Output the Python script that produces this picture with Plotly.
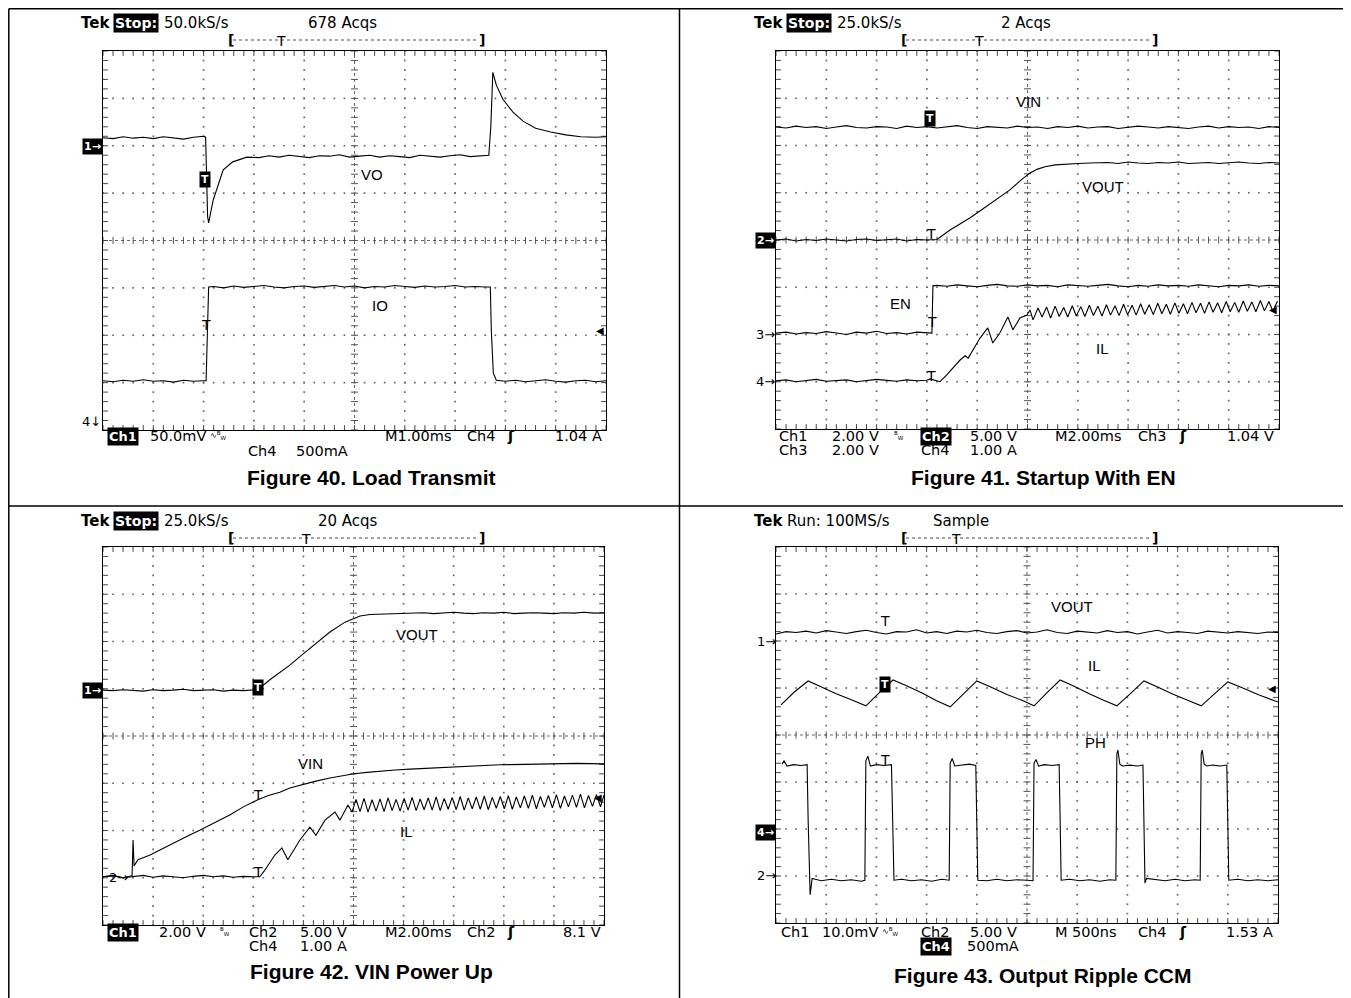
import numpy as np
import plotly.graph_objects as go

# page pixel frame of the reference (the browser adds an 8px body margin)
OX, OY = 8, 8
FW, FH = 1343, 990
SCOPE = "DejaVu Sans"
SANS = "Liberation Sans"

# ---------------- data (time in divisions 0..10, amplitude in divisions -4..4) ----------------
TIME_51 = [0.0, 0.2, 0.4, 0.6, 0.8, 1.0, 1.2, 1.4, 1.6, 1.8, 2.0, 2.2, 2.4, 2.6, 2.8, 3.0, 3.2, 3.4,
           3.6, 3.8, 4.0, 4.2, 4.4, 4.6, 4.8, 5.0, 5.2, 5.4, 5.6, 5.8, 6.0, 6.2, 6.4, 6.6, 6.8, 7.0,
           7.2, 7.4, 7.6, 7.8, 8.0, 8.2, 8.4, 8.6, 8.8, 9.0, 9.2, 9.4, 9.6, 9.8, 10.0]

# Figure 40 - Load Transmit
F40_VO_X = [0, 0.2, 0.4, 0.6, 0.8, 1.0, 1.2, 1.4, 1.6, 1.8, 2.0, 2.04, 2.06, 2.08, 2.1, 2.19, 2.39,
            2.58, 2.86, 3.1, 3.3, 3.5, 3.7, 3.9, 4.1, 4.3, 4.5, 4.7, 4.9, 5.1, 5.3, 5.5, 5.7, 5.9,
            6.1, 6.3, 6.5, 6.7, 6.9, 7.1, 7.3, 7.5, 7.67, 7.71, 7.75, 7.82, 7.95, 8.15, 8.35, 8.6,
            8.9, 9.2, 9.5, 9.8, 10]
F40_VO_Y = [2.17, 2.15, 2.19, 2.16, 2.18, 2.15, 2.19, 2.17, 2.14, 2.18, 2.2, 2.18, 1.2, 0.5, 0.37,
            0.85, 1.49, 1.66, 1.76, 1.75, 1.79, 1.76, 1.80, 1.77, 1.75, 1.79, 1.78, 1.81, 1.76, 1.78,
            1.80, 1.76, 1.79, 1.77, 1.75, 1.80, 1.78, 1.76, 1.79, 1.81, 1.77, 1.78, 1.80, 2.4, 3.55,
            3.28, 2.98, 2.71, 2.52, 2.37, 2.29, 2.23, 2.19, 2.18, 2.19]
F40_IO_X = [0, 0.2, 0.4, 0.6, 0.8, 1.0, 1.2, 1.4, 1.6, 1.8, 2.0, 2.05, 2.1, 2.2, 2.4, 2.6, 2.8, 3.0,
            3.2, 3.4, 3.6, 3.8, 4.0, 4.2, 4.4, 4.6, 4.8, 5.0, 5.2, 5.4, 5.6, 5.8, 6.0, 6.2, 6.4, 6.6,
            6.8, 7.0, 7.2, 7.4, 7.6, 7.7, 7.72, 7.76, 7.82, 8.0, 8.2, 8.4, 8.6, 8.8, 9.0, 9.2, 9.4,
            9.6, 9.8, 10]
F40_IO_Y = [-2.96, -2.98, -2.95, -2.97, -2.94, -2.97, -2.96, -2.99, -2.95, -2.97, -2.96, -2.96, -0.98,
            -0.97, -1.0, -0.96, -0.99, -0.97, -0.95, -0.98, -1.0, -0.97, -0.96, -0.99, -0.97, -0.95,
            -0.98, -0.96, -1.0, -0.97, -0.98, -0.95, -0.97, -0.99, -0.96, -0.98, -0.97, -0.95, -0.98,
            -0.97, -0.98, -0.98, -1.9, -2.8, -2.95, -2.97, -2.95, -2.98, -2.96, -2.94, -2.97, -2.99,
            -2.96, -2.95, -2.98, -2.96]

# Figure 41 - Startup With EN
F41_VIN_Y = [2.39, 2.37, 2.41, 2.38, 2.40, 2.36, 2.39, 2.42, 2.38, 2.37,
             2.40, 2.39, 2.36, 2.41, 2.38, 2.40, 2.37, 2.39, 2.42, 2.38,
             2.36, 2.40, 2.39, 2.37, 2.41, 2.38, 2.39, 2.36, 2.40, 2.38,
             2.41, 2.37, 2.39, 2.40, 2.36, 2.38, 2.41, 2.39, 2.37, 2.40,
             2.38, 2.36, 2.39, 2.41, 2.37, 2.40, 2.38, 2.39, 2.36, 2.40, 2.38]
F41_VOUT_X = [0.0, 0.2, 0.4, 0.6, 0.8, 1.0, 1.2, 1.4, 1.6, 1.8, 2.0, 2.2, 2.4, 2.6, 2.8, 3.0, 3.2,
              3.46, 3.66, 3.86, 4.06, 4.25, 4.45, 4.65, 4.85, 5.05, 5.2, 5.35, 5.55, 5.75, 6.0, 6.24,
              6.4, 6.6, 6.8, 7.0, 7.2, 7.4, 7.6, 7.8, 8.0, 8.2, 8.4, 8.6, 8.8, 9.0, 9.2, 9.4, 9.6,
              9.8, 10.0]
F41_VOUT_Y = [0.0, 0.02, -0.02, 0.01, -0.01, 0.02, 0.0, -0.02, 0.01, 0.02, -0.01, 0.0, 0.02, -0.02,
              0.01, 0.0, 0.01,
              0.21, 0.34, 0.47, 0.62, 0.76, 0.91, 1.06, 1.25, 1.42, 1.50, 1.55, 1.59, 1.61, 1.62, 1.63,
              1.63, 1.64, 1.62, 1.65, 1.63, 1.62, 1.64, 1.63, 1.65, 1.62, 1.63, 1.64, 1.62, 1.63, 1.65,
              1.63, 1.62, 1.64, 1.63]
F41_EN_X = [0.0, 0.2, 0.4, 0.6, 0.8, 1.0, 1.2, 1.4, 1.6, 1.8, 2.0, 2.2, 2.4, 2.6, 2.8, 3.0, 3.1, 3.12,
            3.2, 3.4, 3.6, 3.8, 4.0, 4.2, 4.4, 4.6, 4.8, 5.0, 5.2, 5.4, 5.6, 5.8, 6.0, 6.2, 6.4, 6.6,
            6.8, 7.0, 7.2, 7.4, 7.6, 7.8, 8.0, 8.2, 8.4, 8.6, 8.8, 9.0, 9.2, 9.4, 9.6, 9.8, 10.0]
F41_EN_Y = [-1.97, -1.95, -1.99, -1.96, -1.98, -1.94, -1.97, -2.0, -1.95, -1.97, -1.93, -1.98, -1.96,
            -1.99, -1.95, -1.97, -1.97, -0.97,
            -0.96, -0.98, -0.95, -0.97, -0.99, -0.96, -0.94, -0.97, -0.98, -0.95, -0.97, -0.96, -0.99,
            -0.95, -0.97, -0.98, -0.96, -0.94, -0.97, -0.99, -0.96, -0.98, -0.95, -0.97, -0.96, -0.98,
            -0.95, -0.97, -0.99, -0.96, -0.97, -0.95, -0.98, -0.96, -0.97]
F41_IL_X = [0.0, 0.2, 0.4, 0.6, 0.8, 1.0, 1.2, 1.4, 1.6, 1.8, 2.0, 2.2, 2.4, 2.6, 2.8, 3.0,
            3.06, 3.26, 3.39, 3.66, 3.76, 3.82, 3.92, 4.06, 4.21, 4.31, 4.45, 4.61, 4.71, 4.85, 4.99,
            5.05, 5.11, 5.21, 5.29,
            5.38, 5.46, 5.55, 5.63, 5.72, 5.80, 5.89, 5.97, 6.06, 6.14,
            6.23, 6.31, 6.40, 6.48, 6.57, 6.65, 6.74, 6.82, 6.91, 6.99,
            7.08, 7.16, 7.25, 7.33, 7.42, 7.50, 7.59, 7.67, 7.76, 7.84,
            7.93, 8.01, 8.10, 8.18, 8.27, 8.35, 8.44, 8.52, 8.61, 8.69,
            8.78, 8.86, 8.95, 9.03, 9.12, 9.20, 9.29, 9.37, 9.46, 9.54,
            9.63, 9.71, 9.80, 9.88, 9.97]
F41_IL_Y = [-2.98, -2.96, -3.0, -2.97, -2.95, -2.99, -2.97, -2.96, -3.0, -2.98, -2.95, -2.97, -2.99,
            -2.96, -2.98, -2.97,
            -2.94, -3.0, -2.86, -2.54, -2.45, -2.50, -2.33, -2.07, -1.86, -2.18, -1.97, -1.63, -1.90,
            -1.65, -1.59, -1.48, -1.69, -1.44, -1.63,
            -1.42, -1.65, -1.40, -1.62, -1.43, -1.63, -1.39, -1.61, -1.41, -1.62,
            -1.38, -1.60, -1.40, -1.61, -1.37, -1.59, -1.39, -1.60, -1.36, -1.58,
            -1.38, -1.59, -1.35, -1.57, -1.37, -1.58, -1.34, -1.56, -1.36, -1.57,
            -1.33, -1.55, -1.35, -1.56, -1.32, -1.54, -1.34, -1.55, -1.31, -1.53,
            -1.33, -1.54, -1.30, -1.52, -1.32, -1.53, -1.29, -1.51, -1.31, -1.52,
            -1.28, -1.50, -1.30, -1.51, -1.29]

# Figure 42 - VIN Power Up
F42_VOUT_X = [0.0, 0.2, 0.4, 0.6, 0.8, 1.0, 1.2, 1.4, 1.6, 1.8, 2.0, 2.2, 2.4, 2.6, 2.8, 3.0,
              3.09, 3.33, 3.53, 3.73, 3.93, 4.13, 4.33, 4.53, 4.83, 5.13, 5.33, 5.53, 5.73, 5.93,
              6.2, 6.4, 6.6, 6.8, 7.0, 7.2, 7.4, 7.6, 7.8, 8.0, 8.2, 8.4, 8.6, 8.8, 9.0, 9.2, 9.4,
              9.6, 9.8, 10.0]
F42_VOUT_Y = [0.97, 0.96, 0.98, 0.97, 0.95, 0.98, 0.96, 0.97, 0.99, 0.96, 0.97, 0.98, 0.95, 0.97,
              0.96, 0.98,
              0.98, 1.19, 1.34, 1.50, 1.68, 1.86, 2.03, 2.20, 2.41, 2.54, 2.57, 2.58, 2.59, 2.60,
              2.60, 2.61, 2.59, 2.60, 2.62, 2.60, 2.59, 2.61, 2.60, 2.62, 2.59, 2.60, 2.61, 2.60,
              2.59, 2.61, 2.60, 2.62, 2.60, 2.61]
F42_VIN_X = [0, 0.2, 0.4, 0.58, 0.6, 0.62, 0.66, 0.7, 0.94, 1.2, 1.44, 1.7, 1.94, 2.24, 2.53, 2.8,
             3.09, 3.3, 3.53, 3.73, 3.93, 4.23, 4.53, 4.77, 5.01, 5.27, 5.53, 5.83, 6.13, 6.53, 6.93,
             7.43, 7.92, 8.42, 8.92, 9.46, 10]
F42_VIN_Y = [-2.98, -2.95, -3.0, -2.96, -2.2, -2.75, -2.68, -2.62, -2.52, -2.38, -2.24, -2.11, -1.99,
             -1.83, -1.67, -1.50, -1.35, -1.26, -1.19, -1.10, -1.04, -0.96, -0.89, -0.84, -0.80,
             -0.77, -0.74, -0.72, -0.70, -0.68, -0.66, -0.63, -0.61, -0.60, -0.59, -0.58, -0.59]
F42_IL_X = [0.0, 0.2, 0.4, 0.6, 0.8, 1.0, 1.2, 1.4, 1.6, 1.8, 2.0, 2.2, 2.4, 2.6, 2.8, 3.0,
            3.13, 3.23, 3.43, 3.57, 3.69, 3.93, 4.13, 4.25, 4.43, 4.63, 4.73, 4.89, 4.97,
            5.05, 5.13, 5.21, 5.29, 5.37, 5.45, 5.53, 5.61, 5.69, 5.77,
            5.85, 5.93, 6.01, 6.09, 6.17, 6.25, 6.33, 6.41, 6.49, 6.57,
            6.65, 6.73, 6.81, 6.89, 6.97, 7.05, 7.13, 7.21, 7.29, 7.37,
            7.45, 7.53, 7.61, 7.69, 7.77, 7.85, 7.93, 8.01, 8.09, 8.17,
            8.25, 8.33, 8.41, 8.49, 8.57, 8.65, 8.73, 8.81, 8.89, 8.97,
            9.05, 9.13, 9.21, 9.29, 9.37, 9.45, 9.53, 9.61, 9.69, 9.77,
            9.85, 9.93, 10.0]
F42_IL_Y = [-2.98, -2.96, -3.0, -2.97, -2.95, -2.99, -2.96, -2.98, -3.0, -2.97, -2.95, -2.98, -2.96,
            -2.99, -2.97, -2.98,
            -2.98, -2.84, -2.52, -2.37, -2.62, -2.20, -1.93, -2.10, -1.78, -1.61, -1.78, -1.46, -1.61,
            -1.34, -1.60, -1.32, -1.61, -1.35, -1.59, -1.33, -1.60, -1.31, -1.58,
            -1.34, -1.59, -1.32, -1.57, -1.30, -1.58, -1.33, -1.56, -1.31, -1.57,
            -1.29, -1.58, -1.32, -1.55, -1.30, -1.56, -1.28, -1.57, -1.31, -1.54,
            -1.29, -1.55, -1.27, -1.56, -1.30, -1.53, -1.28, -1.54, -1.26, -1.55,
            -1.29, -1.52, -1.27, -1.53, -1.25, -1.54, -1.28, -1.51, -1.26, -1.52,
            -1.24, -1.53, -1.27, -1.50, -1.25, -1.51, -1.23, -1.52, -1.26, -1.49,
            -1.24, -1.50, -1.25]

# Figure 43 - Output Ripple CCM
F43_VOUT_Y = [2.15, 2.20, 2.18, 2.21, 2.17, 2.22, 2.19, 2.16, 2.20, 2.23,
              2.18, 2.15, 2.20, 2.19, 2.24, 2.17, 2.20, 2.16, 2.21, 2.19,
              2.23, 2.18, 2.16, 2.20, 2.22, 2.17, 2.19, 2.24, 2.18, 2.16,
              2.21, 2.19, 2.17, 2.22, 2.18, 2.20, 2.15, 2.19, 2.23, 2.17,
              2.20, 2.18, 2.16, 2.21, 2.19, 2.17, 2.20, 2.18, 2.16, 2.19, 2.18]
F43_IL_X = [0.1, 0.37, 0.64, 0.9, 1.2, 1.5, 1.79, 2.06, 2.33, 2.6, 2.9, 3.2, 3.47, 3.74, 4.0, 4.3,
            4.6, 4.9, 5.14, 5.4, 5.66, 5.95, 6.25, 6.55, 6.79, 7.06, 7.33, 7.6, 7.9, 8.2, 8.47, 8.74,
            9.0, 9.3, 9.6, 10.0]
F43_IL_Y = [0.64, 0.92, 1.15, 1.02, 0.88, 0.75, 0.62, 0.90, 1.17, 1.05, 0.90, 0.73, 0.60, 0.88, 1.15,
            1.01, 0.86, 0.74, 0.62, 0.90, 1.17, 1.03, 0.87, 0.73, 0.62, 0.88, 1.15, 1.02, 0.87, 0.74,
            0.62, 0.88, 1.13, 1.00, 0.86, 0.70]
F43_PH_X = [0.12, 0.16, 0.22, 0.35, 0.5, 0.62, 0.64, 0.66, 0.68, 0.72, 0.9, 1.1, 1.3, 1.5, 1.7, 1.77,
            1.79, 1.83, 1.88, 2.0, 2.15, 2.3, 2.33, 2.35, 2.5, 2.7, 2.9, 3.1, 3.3, 3.45,
            3.47, 3.51, 3.56, 3.7, 3.85, 3.98, 4.0, 4.02, 4.2, 4.4, 4.6, 4.8, 5.0, 5.12,
            5.14, 5.18, 5.23, 5.35, 5.5, 5.64, 5.66, 5.68, 5.85, 6.05, 6.25, 6.45, 6.65, 6.77,
            6.79, 6.81, 6.85, 6.9, 7.05, 7.2, 7.31, 7.33, 7.35, 7.38, 7.55, 7.75, 7.95, 8.15, 8.35, 8.45,
            8.47, 8.49, 8.53, 8.58, 8.7, 8.85, 8.98, 9.0, 9.02, 9.2, 9.4, 9.6, 9.8, 10.0]
F43_PH_Y = [-0.62, -0.55, -0.66, -0.63, -0.65, -0.63, -1.8, -3.0, -3.4, -3.05, -3.1, -3.07, -3.1, -3.08, -3.11, -3.09,
            -0.55, -0.45, -0.66, -0.63, -0.65, -0.63, -1.8, -3.09, -3.07, -3.1, -3.08, -3.11, -3.07, -3.09,
            -0.6, -0.5, -0.66, -0.64, -0.62, -0.65, -1.8, -3.09, -3.1, -3.07, -3.1, -3.08, -3.09, -3.1,
            -0.6, -0.52, -0.66, -0.63, -0.65, -0.63, -1.8, -3.09, -3.07, -3.1, -3.08, -3.11, -3.08, -3.09,
            -0.4, -0.32, -0.62, -0.66, -0.64, -0.66, -0.64, -1.8, -3.15, -3.05, -3.08, -3.1, -3.07, -3.1, -3.08, -3.09,
            -0.4, -0.32, -0.62, -0.66, -0.64, -0.66, -0.64, -1.8, -3.09, -3.07, -3.1, -3.08, -3.1, -3.08]

CAPTIONS = ["Figure 40. Load Transmit", "Figure 41. Startup With EN",
            "Figure 42. VIN Power Up", "Figure 43. Output Ripple CCM"]


def PX(x):
    return (x - OX) / FW


def PY(y):
    return 1 - (y - OY) / FH


# ---------------- layout ----------------
BOXES = [(103, 606, 51, 430), (776, 1279, 51, 429), (103, 604, 547, 925), (776, 1278, 547, 923)]
SUFFIX = ["", "2", "3", "4"]

fig = go.Figure()
lay = dict(width=FW, height=FH, margin=dict(l=0, r=0, t=0, b=0), paper_bgcolor="white",
           plot_bgcolor="white", showlegend=False)
for (x0, x1, y0, y1), n in zip(BOXES, SUFFIX):
    common = dict(showgrid=False, zeroline=False, showticklabels=False, ticks="", showline=True,
                  mirror=True, linecolor="black", linewidth=1.2, fixedrange=True)
    lay["xaxis" + n] = dict(domain=[PX(x0), PX(x1)], range=[0, 10], anchor="y" + n, **common)
    lay["yaxis" + n] = dict(domain=[PY(y1), PY(y0)], range=[-4, 4], anchor="x" + n, **common)
fig.update_layout(**lay)

DOT_V = list(np.round(np.arange(-4, 4.001, 0.2), 3))
DOT_H = list(np.round(np.arange(0, 10.001, 0.2), 3))


def add_grid(n):
    xr, yr = "x" + n, "y" + n
    gx, gy = [], []
    for xv in (1, 2, 3, 4, 6, 7, 8, 9):
        gx += [xv] * len(DOT_V)
        gy += DOT_V
    for yv in (-3, -2, -1, 1, 2, 3):
        gx += DOT_H
        gy += [yv] * len(DOT_H)
    fig.add_trace(go.Scatter(x=gx, y=gy, mode="markers", hoverinfo="skip",
                             marker=dict(symbol="square", size=1.7, color="#666"), xaxis=xr, yaxis=yr))
    for xs, ys in (([0, 10], [0, 0]), ([5, 5], [-4, 4])):
        fig.add_trace(go.Scatter(x=xs, y=ys, mode="lines", hoverinfo="skip",
                                 line=dict(color="#666", width=1, dash="dot"), xaxis=xr, yaxis=yr))
    fig.add_trace(go.Scatter(x=DOT_H, y=[0] * len(DOT_H), mode="markers", hoverinfo="skip",
                             marker=dict(symbol="line-ns", size=5, line=dict(width=1, color="#555")),
                             xaxis=xr, yaxis=yr))
    fig.add_trace(go.Scatter(x=[5] * len(DOT_V), y=DOT_V, mode="markers", hoverinfo="skip",
                             marker=dict(symbol="line-ew", size=5, line=dict(width=1, color="#555")),
                             xaxis=xr, yaxis=yr))
    fig.add_trace(go.Scatter(x=DOT_H * 2, y=[4] * len(DOT_H) + [-4] * len(DOT_H), mode="markers",
                             hoverinfo="skip",
                             marker=dict(symbol="line-ns", size=7, line=dict(width=1, color="#444")),
                             xaxis=xr, yaxis=yr))
    fig.add_trace(go.Scatter(x=[0] * len(DOT_V) + [10] * len(DOT_V), y=DOT_V * 2, mode="markers",
                             hoverinfo="skip",
                             marker=dict(symbol="line-ew", size=7, line=dict(width=1, color="#444")),
                             xaxis=xr, yaxis=yr))


def wave(n, xs, ys):
    fig.add_trace(go.Scatter(x=xs, y=ys, mode="lines", hoverinfo="skip",
                             line=dict(color="black", width=1.1), xaxis="x" + n, yaxis="y" + n))


for n in SUFFIX:
    add_grid(n)

wave("", F40_VO_X, F40_VO_Y)
wave("", F40_IO_X, F40_IO_Y)
wave("2", TIME_51, F41_VIN_Y)
wave("2", F41_VOUT_X, F41_VOUT_Y)
wave("2", F41_EN_X, F41_EN_Y)
wave("2", F41_IL_X, F41_IL_Y)
wave("3", F42_VOUT_X, F42_VOUT_Y)
wave("3", F42_VIN_X, F42_VIN_Y)
wave("3", F42_IL_X, F42_IL_Y)
wave("4", TIME_51, F43_VOUT_Y)
wave("4", F43_IL_X, F43_IL_Y)
wave("4", F43_PH_X, F43_PH_Y)


def ann(x, y, text, size=15, family=SCOPE, color="black", bg=None, xanchor="left", pad=0):
    fig.add_annotation(x=PX(x), y=PY(y), xref="paper", yref="paper", text=text, showarrow=False,
                       xanchor=xanchor, yanchor="middle", font=dict(family=family, size=size, color=color),
                       bgcolor=bg, borderpad=pad)


def boxed(x, y, text, size=13):
    ann(x, y, "<b>" + text + "</b>", size=size, color="white", bg="black", pad=1)


# headers
for dx, dy, rate, acq, acq_x, tx, stop in ((0, 0, "50.0kS/s", "678 Acqs", 307, 281, True),
                                           (673, 0, "25.0kS/s", "2 Acqs", 1000 - 673, 979 - 673, True),
                                           (0, 498, "25.0kS/s", "20 Acqs", 317, 306, True),
                                           (673, 498, "100MS/s", "Sample", 932 - 673, 956 - 673, False)):
    ann(80 + dx, 23 + dy, "<b>Tek</b>", size=15)
    if stop:
        boxed(113 + dx, 23 + dy, "Stop:", size=14)
        ann(163 + dx, 23 + dy, rate)
    else:
        ann(786 - 673 + dx, 23 + dy, "Run: " + rate)
    ann(acq_x + dx, 23 + dy, acq)
    # trigger position bracket
    fig.add_shape(type="line", xref="paper", yref="paper", x0=PX(233 + dx), x1=PX(479 + dx),
                  y0=PY(40 + dy), y1=PY(40 + dy), line=dict(color="#888", width=1.5, dash="dot"))
    ann(227 + dx, 40 + dy, "<b>[</b>", size=14)
    ann(478 + dx, 40 + dy, "<b>]</b>", size=14)
    ann(tx + dx, 41 + dy, "T", size=14, xanchor="center")

# bottom readouts
BS = 14.5
BW = "∿<sup>B</sup><sub>W</sub>"
# fig 40
boxed(107, 436, "Ch1")
ann(149, 436, "50.0mV", size=BS)
ann(209, 435, BW, size=8)
ann(384, 436, "M1.00ms", size=BS)
ann(466, 436, "Ch4", size=BS)
ann(506, 436, "<b>ʃ</b>", size=BS)
ann(603, 436, "1.04 A", xanchor="right", size=BS)
ann(247, 451, "Ch4", size=BS)
ann(295, 451, "500mA", size=BS)
# fig 41
ann(778, 436, "Ch1", size=BS)
ann(831, 436, "2.00 V", size=BS)
ann(893, 435, "<sup>B</sup><sub>W</sub>", size=8)
boxed(920, 436, "Ch2")
ann(969, 436, "5.00 V", size=BS)
ann(1054, 436, "M2.00ms", size=BS)
ann(1137, 436, "Ch3", size=BS)
ann(1178, 436, "<b>ʃ</b>", size=BS)
ann(1275, 436, "1.04 V", xanchor="right", size=BS)
ann(778, 450, "Ch3", size=BS)
ann(831, 450, "2.00 V", size=BS)
ann(920, 450, "Ch4", size=BS)
ann(969, 450, "1.00 A", size=BS)
# fig 42
boxed(107, 932, "Ch1")
ann(158, 932, "2.00 V", size=BS)
ann(219, 931, "<sup>B</sup><sub>W</sub>", size=8)
ann(248, 932, "Ch2", size=BS)
ann(299, 932, "5.00 V", size=BS)
ann(384, 932, "M2.00ms", size=BS)
ann(466, 932, "Ch2", size=BS)
ann(506, 932, "<b>ʃ</b>", size=BS)
ann(602, 932, "8.1 V", xanchor="right", size=BS)
ann(248, 946, "Ch4", size=BS)
ann(299, 946, "1.00 A", size=BS)
# fig 43
ann(780, 932, "Ch1", size=BS)
ann(821, 932, "10.0mV", size=BS)
ann(881, 931, BW, size=8)
ann(920, 932, "Ch2", size=BS)
ann(969, 932, "5.00 V", size=BS)
ann(1054, 932, "M 500ns", size=BS)
ann(1137, 932, "Ch4", size=BS)
ann(1178, 932, "<b>ʃ</b>", size=BS)
ann(1274, 932, "1.53 A", xanchor="right", size=BS)
boxed(920, 946, "Ch4")
ann(966, 946, "500mA", size=BS)

# captions
for (cx, cy), cap in zip(((371, 477), (1043, 477), (371, 971), (1043, 975)), CAPTIONS):
    ann(cx, cy, "<b>" + cap + "</b>", size=21, family=SANS, xanchor="center")

# channel ground markers
boxed(82, 146, "1→", size=11)
ann(81, 421, "4↓", size=13)
boxed(755, 241, "2→", size=11)
ann(755, 334, "3→", size=13)
ann(755, 381, "4→", size=13)
boxed(82, 690, "1→", size=11)
ann(108, 877, "2→", size=13)
ann(756, 641, "1→", size=13)
boxed(755, 832, "4→", size=11)
ann(756, 875, "2→", size=13)

# trigger markers on traces
for (x, y) in ((205, 179), (930, 119), (258, 687), (885, 684)):
    ann(x, y, "<b>T</b>", size=11, color="white", bg="black", xanchor="center", pad=1)
for (x, y) in ((206, 325), (931, 234), (932, 322), (931, 376), (258, 795), (258, 872),
               (885, 621), (885, 760)):
    ann(x, y, "T", size=14, xanchor="center")
# trigger level arrows
for (x, y) in ((600, 330), (1273, 309), (598, 797), (1272, 688)):
    ann(x, y, "◀", size=10, xanchor="center")

# trace labels
for (x, y, t) in ((372, 175, "VO"), (380, 305, "IO"), (1028, 102, "VIN"), (1103, 186, "VOUT"),
                  (900, 304, "EN"), (1102, 348, "IL"), (417, 634, "VOUT"), (310, 763, "VIN"),
                  (406, 831, "IL"), (1072, 606, "VOUT"), (1094, 665, "IL"), (1095, 742, "PH")):
    ann(x, y, t, size=15, family=SANS, xanchor="center")

# panel separators
for x0, y0, x1, y1 in ((8.8, 8.8, 1351, 8.8), (8.8, 8.8, 8.8, 998), (679.5, 8.8, 679.5, 998),
                       (8.8, 506, 1351, 506)):
    fig.add_shape(type="line", xref="paper", yref="paper", x0=PX(x0), x1=PX(x1), y0=PY(y0),
                  y1=PY(y1), line=dict(color="black", width=1.5))

fig.write_html("out.html")
